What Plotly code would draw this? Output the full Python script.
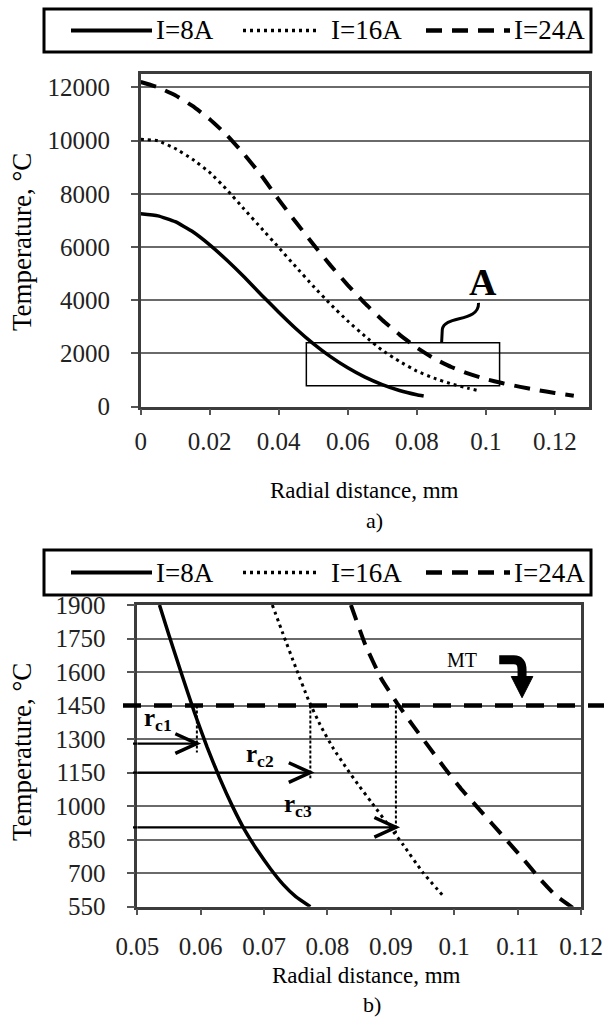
import plotly.graph_objects as go

W, H = 604, 1021
FONT = "Liberation Serif"

# ---------------- Panel a) data ----------------
r_a8 = [0, 0.005, 0.01, 0.015, 0.02, 0.025, 0.03, 0.035, 0.04, 0.045, 0.05,
        0.055, 0.06, 0.065, 0.07, 0.075, 0.08, 0.082]
T_a8 = [7250, 7170, 6950, 6580, 6080, 5500, 4870, 4200, 3550, 2930, 2370,
        1880, 1460, 1110, 830, 610, 450, 400]

r_a16 = [0, 0.005, 0.01, 0.015, 0.02, 0.025, 0.03, 0.035, 0.04, 0.045, 0.05,
         0.055, 0.06, 0.065, 0.07, 0.075, 0.08, 0.085, 0.09, 0.095, 0.098]
T_a16 = [10050, 9990, 9700, 9300, 8800, 8150, 7420, 6700, 5980, 5250, 4530,
         3850, 3220, 2650, 2120, 1700, 1340, 1070, 860, 690, 600]

r_a24 = [0, 0.005, 0.01, 0.015, 0.02, 0.025, 0.03, 0.035, 0.04, 0.045, 0.05,
         0.055, 0.06, 0.065, 0.07, 0.075, 0.08, 0.085, 0.09, 0.095, 0.1,
         0.105, 0.11, 0.115, 0.12, 0.1255]
T_a24 = [12200, 12000, 11700, 11300, 10800, 10200, 9480, 8680, 7780, 6930, 6100,
         5310, 4570, 3880, 3260, 2710, 2220, 1810, 1490, 1240, 1040,
         880, 745, 625, 515, 410]

xa_ticks = [0, 0.02, 0.04, 0.06, 0.08, 0.1, 0.12]
xa_labels = ["0", "0.02", "0.04", "0.06", "0.08", "0.1", "0.12"]
ya_ticks = [0, 2000, 4000, 6000, 8000, 10000, 12000]
ya_labels = ["0", "2000", "4000", "6000", "8000", "10000", "12000"]

# zoom box "A" (radial range, temperature range)
A_r = [0.048, 0.104]
A_T = [790, 2400]

# ---------------- Panel b) data ----------------
r_b8 = [0.0535, 0.055, 0.057, 0.059, 0.061, 0.063, 0.065, 0.067, 0.069,
        0.071, 0.073, 0.075, 0.0773]
T_b8 = [1900, 1765, 1590, 1420, 1265, 1125, 1000, 890, 800, 720, 650, 595, 550]

r_b16 = [0.0713, 0.073, 0.075, 0.077, 0.079, 0.081, 0.083, 0.085, 0.087,
         0.090, 0.092, 0.095, 0.0985]
T_b16 = [1900, 1770, 1620, 1475, 1355, 1255, 1170, 1090, 1015, 900, 825, 705, 590]

r_b24 = [0.0837, 0.086, 0.0885, 0.091, 0.0935, 0.096, 0.0985, 0.101, 0.1035,
         0.106, 0.1085, 0.111, 0.1135, 0.116, 0.1187]
T_b24 = [1900, 1720, 1570, 1460, 1360, 1265, 1170, 1080, 1000, 920, 840, 760,
         675, 600, 545]

xb_ticks = [0.05, 0.06, 0.07, 0.08, 0.09, 0.1, 0.11, 0.12]
xb_labels = ["0.05", "0.06", "0.07", "0.08", "0.09", "0.1", "0.11", "0.12"]
yb_ticks = [550, 700, 850, 1000, 1150, 1300, 1450, 1600, 1750, 1900]
yb_labels = [str(v) for v in yb_ticks]

MT = 1450                                  # melting temperature
rc_vals = [0.0594, 0.0773, 0.0908]         # critical radii
rc_levels = [1280, 1150, 905]              # arrow levels
rc_names = ["r<sub>c1</sub>", "r<sub>c2</sub>", "r<sub>c3</sub>"]
rc_label_r = [0.0533, 0.0693, 0.0754]
rc_label_T = [1386, 1225, 1001]

series_names = ["I=8A", "I=16A", "I=24A"]
series_dash = ["solid", "3px,4px", "16px,10px"]
series_width = [3.5, 3, 4]

fig = go.Figure()

for r, T, i in [(r_a8, T_a8, 0), (r_a16, T_a16, 1), (r_a24, T_a24, 2)]:
    fig.add_trace(go.Scatter(x=r, y=T, mode="lines", xaxis="x", yaxis="y",
                             line=dict(color="black", width=series_width[i], dash=series_dash[i],
                                       shape="spline", smoothing=0.4),
                             name=series_names[i], showlegend=False))
for r, T, i in [(r_b8, T_b8, 0), (r_b16, T_b16, 1), (r_b24, T_b24, 2)]:
    fig.add_trace(go.Scatter(x=r, y=T, mode="lines", xaxis="x2", yaxis="y2",
                             line=dict(color="black", width=series_width[i], dash=series_dash[i],
                                       shape="spline", smoothing=0.4),
                             name=series_names[i], showlegend=False))

def px(x):
    return x / W

def py(y):
    return 1 - y / H

axis_common = dict(showline=True, mirror=True, linecolor="#3c3c3c", linewidth=2.5,
                   ticks="outside", tickcolor="#555", tickwidth=2, zeroline=False,
                   tickfont=dict(family=FONT, size=25, color="#222"), automargin=False,
                   fixedrange=True)

fig.update_layout(
    width=W, height=H, margin=dict(l=0, r=0, t=0, b=0),
    paper_bgcolor="white", plot_bgcolor="white", showlegend=False,
    xaxis=dict(domain=[px(140.7), px(589.3)], range=[0, 0.13], anchor="y",
               tickvals=xa_ticks, ticktext=xa_labels, ticklen=6, showgrid=False,
               ticklabelstandoff=5, **axis_common),
    yaxis=dict(domain=[py(406.7), py(74)], range=[0, 12500], anchor="x",
               tickvals=ya_ticks, ticktext=ya_labels, ticklen=7, showgrid=True,
               gridcolor="#6a6a6a", gridwidth=2, ticklabelstandoff=16, **axis_common),
    xaxis2=dict(domain=[px(137.3), px(581)], range=[0.05, 0.12], anchor="y2",
                tickvals=xb_ticks, ticktext=xb_labels, ticklen=6, showgrid=False,
                ticklabelstandoff=10, **axis_common),
    yaxis2=dict(domain=[py(906.7), py(605)], range=[550, 1900], anchor="x2",
                tickvals=yb_ticks, ticktext=yb_labels, ticklen=8, showgrid=True,
                gridcolor="#6a6a6a", gridwidth=2, ticklabelstandoff=16, **axis_common),
)

shapes = []
annotations = []

# ---- legends (drawn as boxes with line samples) ----
def add_legend(ytop, ybot):
    ymid = (ytop + ybot) / 2
    shapes.append(dict(type="rect", xref="paper", yref="paper", x0=px(44), x1=px(591),
                       y0=py(ybot), y1=py(ytop), line=dict(color="black", width=3)))
    samples = [(71, 152, 154), (243, 316, 329), (426, 510, 512)]
    for i, (a, b, t) in enumerate(samples):
        shapes.append(dict(type="line", xref="paper", yref="paper", x0=px(a), x1=px(b),
                           y0=py(ymid), y1=py(ymid),
                           line=dict(color="black", width=series_width[i] + 0.5,
                                     dash=series_dash[i])))
        annotations.append(dict(text=series_names[i], xref="paper", yref="paper",
                                x=px(t), y=py(ymid), xanchor="left", yanchor="middle",
                                showarrow=False, font=dict(family=FONT, size=27, color="black")))

add_legend(9, 52)
add_legend(550, 595)

# ---- axis titles and captions ----
for xc, yc, txt, fs in [(364, 490, "Radial distance, mm", 23), (366, 975, "Radial distance, mm", 23),
                        (374, 520, "a)", 22), (372, 1004, "b)", 22)]:
    annotations.append(dict(text=txt, xref="paper", yref="paper", x=px(xc), y=py(yc),
                            xanchor="center", yanchor="middle", showarrow=False,
                            font=dict(family=FONT, size=fs, color="black")))
for yc in [242, 752]:
    annotations.append(dict(text="Temperature, \u00b0C", xref="paper", yref="paper",
                            x=px(22), y=py(yc), xanchor="center", yanchor="middle",
                            textangle=-90, showarrow=False,
                            font=dict(family=FONT, size=27, color="black")))

# ---- panel a: zoom box A, label and squiggle ----
shapes.append(dict(type="rect", xref="x", yref="y", x0=A_r[0], x1=A_r[1], y0=A_T[0], y1=A_T[1],
                   line=dict(color="black", width=1.5)))
shapes.append(dict(type="path", xref="x", yref="y",
                   path="M 0.0979,3900 C 0.0981,3150 0.0880,3450 0.0874,2900 L 0.0872,2400",
                   line=dict(color="black", width=3)))
annotations.append(dict(text="<b>A</b>", xref="x", yref="y", x=0.0993, y=4680,
                        showarrow=False, xanchor="center", yanchor="middle",
                        font=dict(family=FONT, size=38, color="black")))

# ---- panel b: melting temperature line ----
shapes.append(dict(type="line", xref="paper", yref="y2", x0=px(123), x1=px(604), y0=MT, y1=MT,
                   line=dict(color="black", width=4.5, dash="18px,13px")))
annotations.append(dict(text="MT", xref="x2", yref="y2", x=0.1013, y=1654, showarrow=False,
                        xanchor="center", yanchor="middle",
                        font=dict(family=FONT, size=20, color="black")))
# bent thick arrow
shapes.append(dict(type="path", xref="x2", yref="y2",
                   path="M 0.1071,1655 L 0.1094,1655 Q 0.1107,1655 0.1107,1610 L 0.1107,1575",
                   line=dict(color="black", width=9)))
shapes.append(dict(type="path", xref="x2", yref="y2",
                   path="M 0.1090,1580 L 0.1124,1580 L 0.1107,1485 Z",
                   fillcolor="black", line=dict(color="black", width=1)))

# critical radii: vertical dashed drops and arrows
head_dx, head_dy = 0.0034, 44
for i in range(3):
    xh, lv = rc_vals[i], rc_levels[i]
    shapes.append(dict(type="line", xref="x2", yref="y2", x0=xh, x1=xh,
                       y0=MT, y1=lv - (40 if i == 0 else 25),
                       line=dict(color="black", width=2, dash="3px,2px")))
    shapes.append(dict(type="line", xref="paper", yref="y2", x0=px(133), x1=px(137.3),
                       y0=lv, y1=lv, line=dict(color="black", width=2.2)))
    shapes.append(dict(type="line", xref="x2", yref="y2", x0=0.05, x1=xh,
                       y0=lv, y1=lv, line=dict(color="black", width=2.2)))
    shapes.append(dict(type="path", xref="x2", yref="y2",
                       path=f"M {xh - head_dx},{lv + head_dy} L {xh},{lv} L {xh - head_dx},{lv - head_dy}",
                       line=dict(color="black", width=3.5)))
    annotations.append(dict(text="<b>" + rc_names[i] + "</b>", xref="x2", yref="y2",
                            x=rc_label_r[i], y=rc_label_T[i], showarrow=False,
                            xanchor="center", yanchor="middle",
                            font=dict(family=FONT, size=25, color="black")))

fig.update_layout(shapes=shapes, annotations=annotations)
fig.write_html("out.html", config={"displayModeBar": False},
               post_script="document.body.style.margin='0';")
